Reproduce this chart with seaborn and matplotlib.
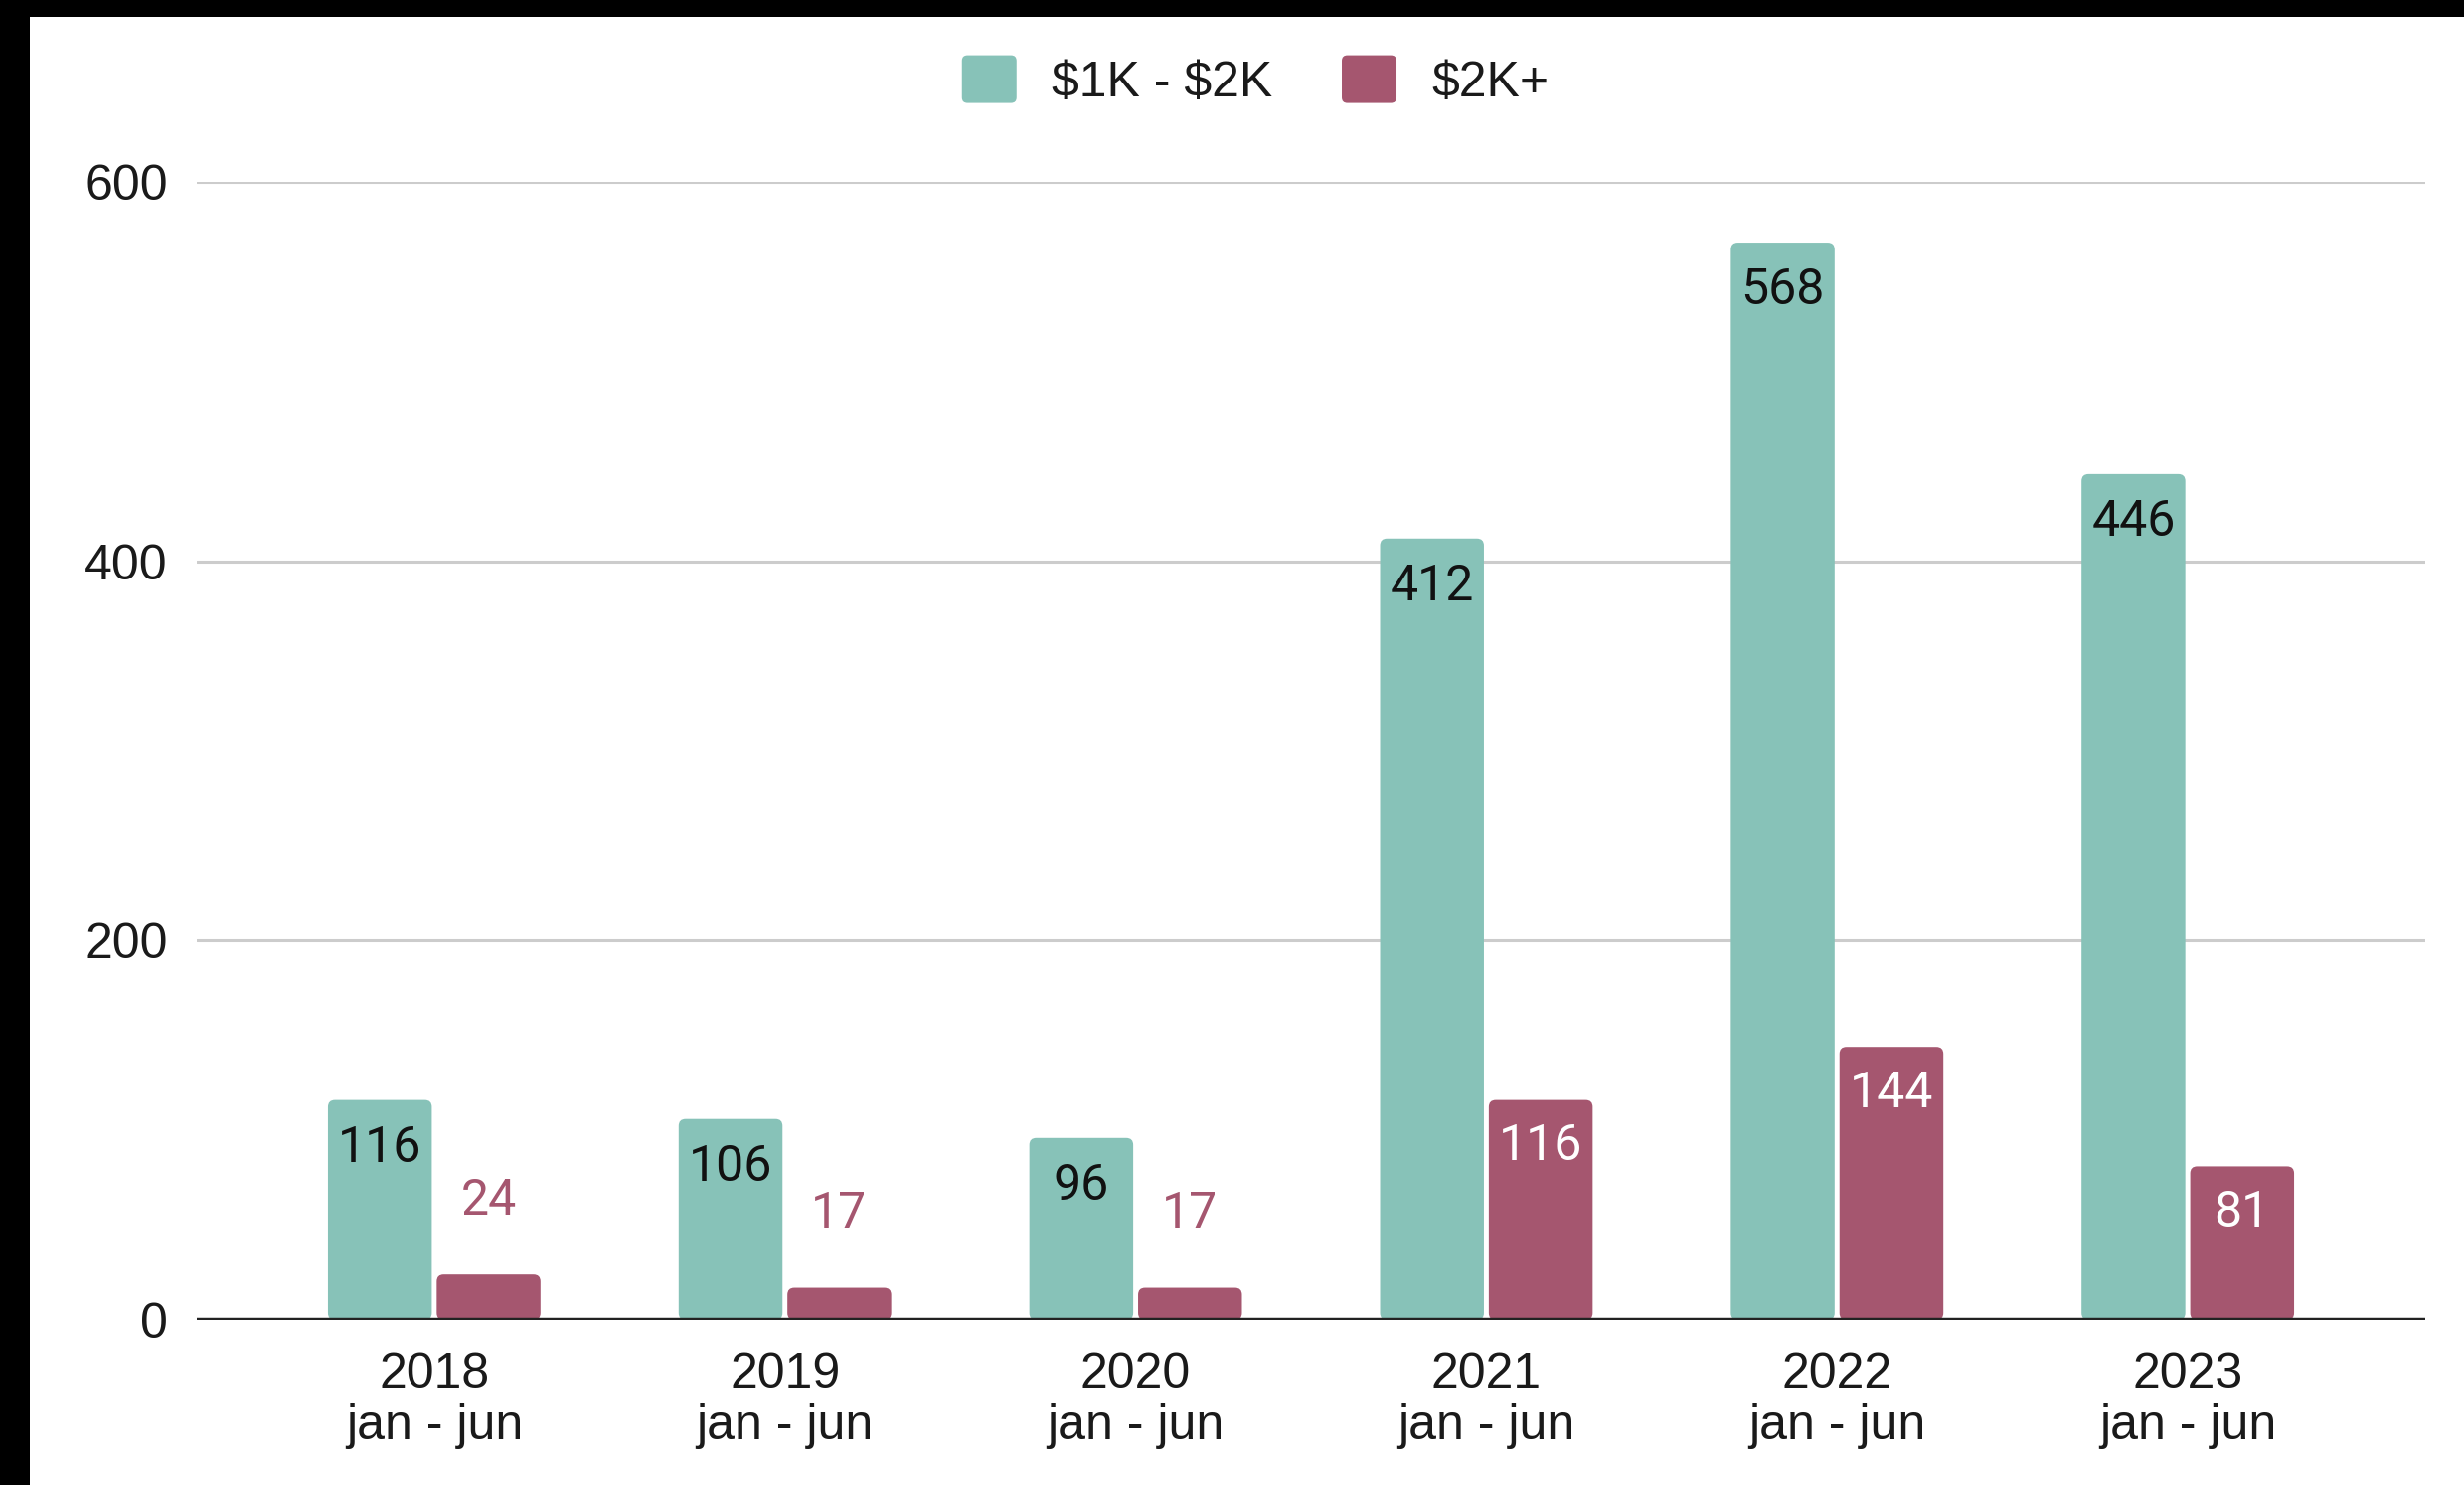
import matplotlib
matplotlib.use("Agg")
import matplotlib.pyplot as plt
from matplotlib.patches import Rectangle, FancyBboxPatch, Patch
from matplotlib.legend_handler import HandlerPatch
import pandas as pd
import seaborn as sns

# ---- data -------------------------------------------------------------
periods = ["2018\njan - jun", "2019\njan - jun", "2020\njan - jun",
           "2021\njan - jun", "2022\njan - jun", "2023\njan - jun"]
series_names = ["$1K - $2K", "$2K+"]
mid_tier = [116, 106, 96, 412, 568, 446]
top_tier = [24, 17, 17, 116, 144, 81]
y_ticks = [0, 200, 400, 600]

TEAL = "#87C2B8"
MAROON = "#A5566F"

df = pd.DataFrame({
    "period": periods * 2,
    "series": [series_names[0]] * len(periods) + [series_names[1]] * len(periods),
    "count": mid_tier + top_tier,
})

# ---- figure -----------------------------------------------------------
W, H, DPI = 2479, 1494, 100
sns.set_theme(style="white")
plt.rcParams["font.family"] = ["Liberation Sans", "DejaVu Sans"]

fig = plt.figure(figsize=(W / DPI, H / DPI), dpi=DPI, facecolor="black")
# white canvas inside a thin dark frame on the top and left
fig.add_artist(Rectangle((30 / W, 0), 1 - 30 / W, 1 - 17 / H,
                         transform=fig.transFigure, facecolor="white",
                         edgecolor="none", zorder=-10))

ax = fig.add_axes([198 / W, 166 / H, (2440 - 198) / W, (1328 - 183) / H])
ax.set_facecolor("none")

sns.barplot(data=df, x="period", y="count", hue="series",
            hue_order=series_names, order=periods,
            palette=[TEAL, MAROON], saturation=1, width=0.62, gap=0.045,
            linewidth=0, ax=ax, zorder=2, legend=False)

# round the bar corners slightly
x_per_px = (5.677 + 0.677) / (2440 - 198)
y_per_px = 600 / (1328 - 183)
for container in ax.containers:
    for bar in container:
        x0, y0 = bar.get_x(), bar.get_y()
        w, h = bar.get_width(), bar.get_height()
        rounded = FancyBboxPatch((x0, y0), w, h,
                                 boxstyle=f"round,pad=0,rounding_size={7 * x_per_px}",
                                 mutation_aspect=y_per_px / x_per_px,
                                 facecolor=bar.get_facecolor(), edgecolor="none",
                                 zorder=2)
        ax.add_patch(rounded)
        bar.set_visible(False)

ax.set_xlim(-0.677, 5.677)
ax.set_ylim(0, 600)
ax.set_yticks(y_ticks)
ax.yaxis.grid(True, color="#cccccc", linewidth=2.2, zorder=0)
ax.set_axisbelow(True)
ax.axhline(0, color="#222222", linewidth=3.2, zorder=3)
for s in ax.spines.values():
    s.set_visible(False)
ax.set_xlabel("")
ax.set_ylabel("")
ax.tick_params(axis="y", length=0, pad=21, labelsize=36, labelcolor="#1a1a1a")
ax.tick_params(axis="x", length=0, pad=23, labelsize=36, labelcolor="#1a1a1a")
for lbl in ax.get_xticklabels():
    lbl.set_linespacing(1.16)

# ---- value labels -----------------------------------------------------
label_font = ["Roboto", "DejaVu Sans"]
for bar, val in zip(ax.containers[0], mid_tier):
    cx = bar.get_x() + bar.get_width() / 2
    ax.annotate(str(val), (cx, val), xytext=(0, -34.5), textcoords="offset points",
                ha="center", va="center", fontsize=36, color="#111111",
                family=label_font, zorder=4)
for bar, val in zip(ax.containers[1], top_tier):
    cx = bar.get_x() + bar.get_width() / 2
    if val >= 50:
        ax.annotate(str(val), (cx, val), xytext=(0, -33.5), textcoords="offset points",
                    ha="center", va="center", fontsize=36, color="white",
                    family=label_font, zorder=4)
    else:
        ax.annotate(str(val), (cx, val), xytext=(0, 53.5), textcoords="offset points",
                    ha="center", va="center", fontsize=36, color=MAROON,
                    family=label_font, zorder=4)

# ---- legend with rounded swatches -------------------------------------
def rounded_swatch(legend, orig_handle, xdescent, ydescent, width, height, fontsize):
    return FancyBboxPatch((-xdescent, -ydescent), width, height,
                          boxstyle="round,pad=0,rounding_size=4")

handles = [Patch(facecolor=TEAL, edgecolor="none"),
           Patch(facecolor=MAROON, edgecolor="none")]
leg = ax.legend(handles, series_names, loc="center", bbox_to_anchor=(0.475, 1.089),
                ncol=2, frameon=False, fontsize=36,
                handlelength=1.1, handleheight=1.1, handletextpad=0.7,
                columnspacing=1.4, labelcolor="#1a1a1a",
                handler_map={Patch: HandlerPatch(patch_func=rounded_swatch)})
for t in leg.get_texts():
    t.set_parse_math(False)

fig.savefig("out.png", dpi=DPI, facecolor=fig.get_facecolor())
